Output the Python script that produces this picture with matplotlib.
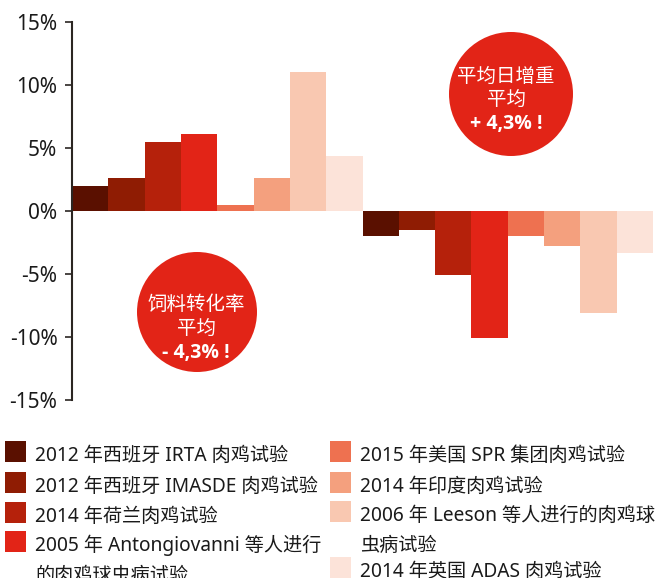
import matplotlib
matplotlib.use("Agg")
import matplotlib.pyplot as plt
from matplotlib.patches import Circle, Rectangle
import numpy as np

plt.rcParams['font.family'] = ['Noto Sans', 'Noto Sans CJK SC', 'DejaVu Sans']

# ---- data ----
trials = ["2012 年西班牙 IRTA 肉鸡试验",
          "2012 年西班牙 IMASDE 肉鸡试验",
          "2014 年荷兰肉鸡试验",
          "2005 年 Antongiovanni 等人进行\n的肉鸡球虫病试验",
          "2015 年美国 SPR 集团肉鸡试验",
          "2014 年印度肉鸡试验",
          "2006 年 Leeson 等人进行的肉鸡球\n虫病试验",
          "2014 年英国 ADAS 肉鸡试验"]
adg_values = [2.0, 2.6, 5.5, 6.1, 0.5, 2.6, 11.0, 4.4]      # 平均日增重 (%)
fcr_values = [-2.0, -1.5, -5.1, -10.1, -2.0, -2.8, -8.1, -3.3]  # 饲料转化率 (%)
yticks = [15, 10, 5, 0, -5, -10, -15]
ytick_labels = ["15%", "10%", "5%", "0%", "-5%", "-10%", "-15%"]
adg_note = ["平均日增重", "平均", "+ 4,3% !"]
fcr_note = ["饲料转化率", "平均", "- 4,3% !"]

colors = ["#5A1000", "#8F1C03", "#B5210B", "#E22417",
          "#EE7150", "#F4A07E", "#F9C8B1", "#FCE3D9"]
circle_color = "#E22417"
text_color = "#1A1A1A"

W, H = 660, 578
fig = plt.figure(figsize=(W / 100, H / 100), dpi=100)

ax = fig.add_axes([72 / W, (H - 400) / H, 581 / W, 378 / H])
values = adg_values + fcr_values
x = np.arange(len(values))
ax.bar(x, values, width=1.0, color=colors * 2, linewidth=0)
ax.set_xlim(-0.5, len(values) - 0.5)
ax.set_ylim(-15, 15)
ax.set_yticks(yticks)
ax.set_yticklabels(ytick_labels, fontsize=15, color=text_color)
ax.set_xticks([])
for s in ["top", "right", "bottom"]:
    ax.spines[s].set_visible(False)
ax.spines["left"].set_color("#2B2622")
ax.spines["left"].set_linewidth(1.5)
ax.tick_params(axis="y", length=5, width=1.2, color="#2B2622", pad=5.5)


def px(xp, yp):
    return (xp / 100, (H - yp) / 100)


# circles
for (cx, cy, r), note, tx, ys in [((511, 94, 62), adg_note, 506, [77, 100, 124]),
                                  ((197, 312, 60), fcr_note, 196, [305, 329, 353])]:
    fig.add_artist(Circle(px(cx, cy), r / 100, transform=fig.dpi_scale_trans,
                          facecolor=circle_color, edgecolor="none", zorder=5))
    for i, (line, yy) in enumerate(zip(note, ys)):
        if i == 2:
            fig.text(tx / W, (H - yy) / H, line, ha="center", va="center",
                     color="white", fontsize=14, fontweight="bold",
                     family=["Open Sans", "DejaVu Sans"], zorder=6)
        else:
            fig.text(tx / W, (H - yy) / H, line, ha="center", va="center",
                     color="white", fontsize=14, zorder=6)

# legend
left_rows = [(5, 441), (5, 472), (5, 502), (5, 531)]
right_rows = [(330, 441), (330, 472), (330, 501), (330, 557)]
rows = left_rows + right_rows
for lab, col, (sx, sy) in zip(trials, colors, rows):
    fig.add_artist(Rectangle(px(sx, sy + 21), 21 / 100, 21 / 100,
                             transform=fig.dpi_scale_trans,
                             facecolor=col, edgecolor="none"))
    for j, line in enumerate(lab.split("\n")):
        base = sy + 20 + j * 30
        fig.text((sx + 30) / W, (H - base) / H, line, ha="left", va="baseline",
                 fontsize=13.8, color=text_color)

fig.savefig("out.png", dpi=100)
